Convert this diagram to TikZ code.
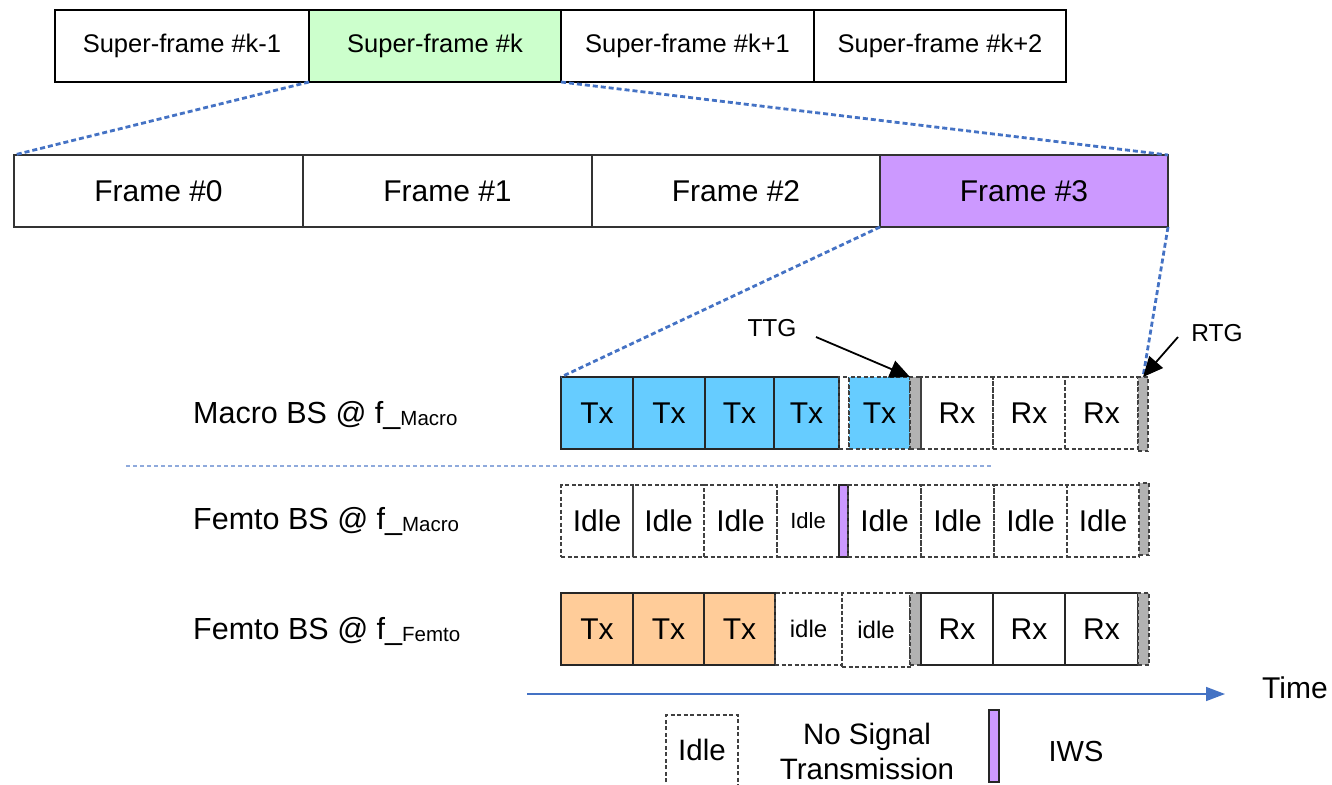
\documentclass[tikz,border=0pt]{standalone}
\usepackage{fontspec}
\setmainfont{Liberation Sans}
\usetikzlibrary{arrows.meta}
\definecolor{zoomblue}{HTML}{4472C4}
\definecolor{seplight}{HTML}{8FAADC}
\definecolor{sfgreen}{HTML}{CCFFCC}
\definecolor{fpurple}{HTML}{CC99FF}
\definecolor{txblue}{HTML}{66CCFF}
\definecolor{txorange}{HTML}{FFCC99}
\definecolor{gapgray}{HTML}{B2B2B2}
\newcommand\cellbox[6]{\node[#5, minimum width={(#3-#2)*1pt}, anchor=north west] (#1) at (#2,#4) {#6};}
\tikzset{
  cellbase/.style={rectangle, inner sep=0pt, outer sep=0pt, minimum height=72pt, font=\fontsize{30}{36}\selectfont, line width=1.1pt},
  solidc/.style={cellbase, draw=black!85},
  dashc/.style={cellbase, draw=black!75, dash pattern=on 4pt off 2.5pt},
  txm/.style={solidc, fill=txblue},
  txmd/.style={dashc, fill=txblue},
  txf/.style={solidc, fill=txorange},
  gapd/.style={dashc, fill=gapgray},
  iws/.style={solidc, fill=fpurple},
  sfbox/.style={cellbase, draw=black, line width=1.3pt, font=\fontsize{25.5}{30}\selectfont},
  frbox/.style={cellbase, draw=black!80, line width=1.3pt, font=\fontsize{30}{36}\selectfont},
  zoomline/.style={draw=zoomblue, line width=2.8pt, dash pattern=on 5pt off 3pt},
  callout/.style={draw=black, line width=1.8pt, -{Triangle[length=20pt,width=18pt]}},
  lbl/.style={inner sep=0pt, anchor=base west, font=\fontsize{30.5}{36}\selectfont},
  plain/.style={inner sep=0pt, font=\fontsize{24.5}{30}\selectfont}
}
\newcommand\subtxt[1]{\raisebox{-2pt}{\fontsize{20.5}{24}\selectfont #1}}
\begin{document}
\begin{tikzpicture}[x=1pt,y=-1pt]
\useasboundingbox (0,0) rectangle (1332,784);
\clip (0,0) rectangle (1332,784);
% super-frames
\cellbox{sa}{55}{309}{10}{sfbox}{Super-frame \#k-1}
\cellbox{sk}{309}{561}{10}{sfbox, fill=sfgreen}{Super-frame \#k}
\cellbox{sb}{561}{814}{10}{sfbox}{Super-frame \#k+1}
\cellbox{sc}{814}{1066}{10}{sfbox}{Super-frame \#k+2}
% frames
\cellbox{f0}{14}{303}{155}{frbox}{Frame \#0}
\cellbox{f1}{303}{592}{155}{frbox}{Frame \#1}
\cellbox{f2}{592}{880}{155}{frbox}{Frame \#2}
\cellbox{f3}{880}{1168}{155}{frbox, fill=fpurple}{Frame \#3}
% macro row
\cellbox{m1}{561}{633}{377}{txm}{Tx}
\cellbox{m2}{633}{705}{377}{txm}{Tx}
\cellbox{m3}{705}{774}{377}{txm}{Tx}
\cellbox{m4}{774}{839}{377}{txm}{Tx}
\cellbox{mg}{839}{849}{377}{dashc}{}
\cellbox{m5}{849}{910}{377}{txmd}{Tx}
\cellbox{mttg}{910}{921}{377}{gapd}{}
\cellbox{m6}{921}{993}{377}{dashc}{Rx}
\cellbox{m7}{993}{1065}{377}{dashc}{Rx}
\cellbox{m8}{1065}{1138}{377}{dashc}{Rx}
\cellbox{mrtg}{1138}{1148}{377}{gapd, minimum height=74pt}{}
% femto @ macro row
\cellbox{a1}{561}{633}{485}{dashc}{Idle}
\cellbox{a2}{633}{704}{485}{dashc}{Idle}
\cellbox{a3}{704}{777}{485}{dashc}{Idle}
\cellbox{a4}{777}{839}{485}{dashc, font=\fontsize{22}{26}\selectfont}{Idle}
\cellbox{aiws}{839}{848}{485}{iws}{}
\cellbox{a5}{848}{921}{485}{dashc}{Idle}
\cellbox{a6}{921}{994}{485}{dashc}{Idle}
\cellbox{a7}{994}{1067}{485}{dashc}{Idle}
\cellbox{a8}{1067}{1139}{485}{dashc}{Idle}
\cellbox{artg}{1139}{1149}{483}{gapd}{}
% femto @ femto row
\cellbox{b1}{561}{633}{593}{txf}{Tx}
\cellbox{b2}{633}{704}{593}{txf}{Tx}
\cellbox{b3}{704}{775}{593}{txf}{Tx}
\cellbox{b4}{775}{842}{593}{dashc, font=\fontsize{24}{28}\selectfont}{idle}
\cellbox{b5}{842}{910}{593}{dashc, minimum height=74pt, font=\fontsize{24}{28}\selectfont}{idle}
\cellbox{bttg}{910}{921}{593}{gapd}{}
\cellbox{b6}{921}{993}{593}{solidc}{Rx}
\cellbox{b7}{993}{1065}{593}{solidc}{Rx}
\cellbox{b8}{1065}{1138}{593}{solidc}{Rx}
\cellbox{brtg}{1138}{1149}{593}{gapd}{}
% zoom lines
\draw[zoomline] (sk.south west) -- (f0.north west);
\draw[zoomline] (sk.south east) -- (f3.north east);
\draw[zoomline] (f3.south west) -- (m1.north west);
\draw[zoomline] (f3.south east) -- (mrtg.north);
% row labels
\node[lbl] (lm) at (193,423) {Macro BS @ f\_\subtxt{Macro}};
\node[lbl] (lfm) at (193,529) {Femto BS @ f\_\subtxt{Macro}};
\node[lbl] (lff) at (193,639) {Femto BS @ f\_\subtxt{Femto}};
% separator
\coordinate (sepa) at (126,466);
\coordinate (sepb) at (993,466);
\draw[seplight, line width=1.2pt, dash pattern=on 4pt off 3pt] (sepa) -- (sepb);
% TTG / RTG callouts
\node[plain] (ttg) at (772,328) {TTG};
\node[plain] (rtg) at (1217,333) {RTG};
\coordinate (ttgs) at (816,337);
\coordinate (rtgs) at (1178,337);
\draw[callout] (ttgs) -- (mttg.north west);
\draw[callout] (rtgs) -- (mrtg.north);
% time axis
\coordinate (ta) at (527,694);
\coordinate (tb) at (1225,694);
\draw[zoomblue, line width=1.5pt, -{Triangle[length=19pt,width=14pt]}] (ta) -- (tb);
\node[plain, font=\fontsize{30}{36}\selectfont] (time) at (1295,688) {Time};
% legend
\draw[black!75, line width=1.1pt, dash pattern=on 4pt off 2.5pt] (666,795) -- (666,715) -- (738,715) -- (738,795);
\node[plain, font=\fontsize{29.5}{35}\selectfont] (lidle) at (702,750) {Idle};
\node[plain, font=\fontsize{29.5}{35}\selectfont, align=center] (lnosig) at (867,751) {No Signal\\Transmission};
\node[iws, minimum width=10pt, minimum height=72pt, anchor=north west] (liws) at (989,710) {};
\node[plain, font=\fontsize{29}{35}\selectfont] (liwst) at (1076,752) {IWS};
\end{tikzpicture}
\end{document}
